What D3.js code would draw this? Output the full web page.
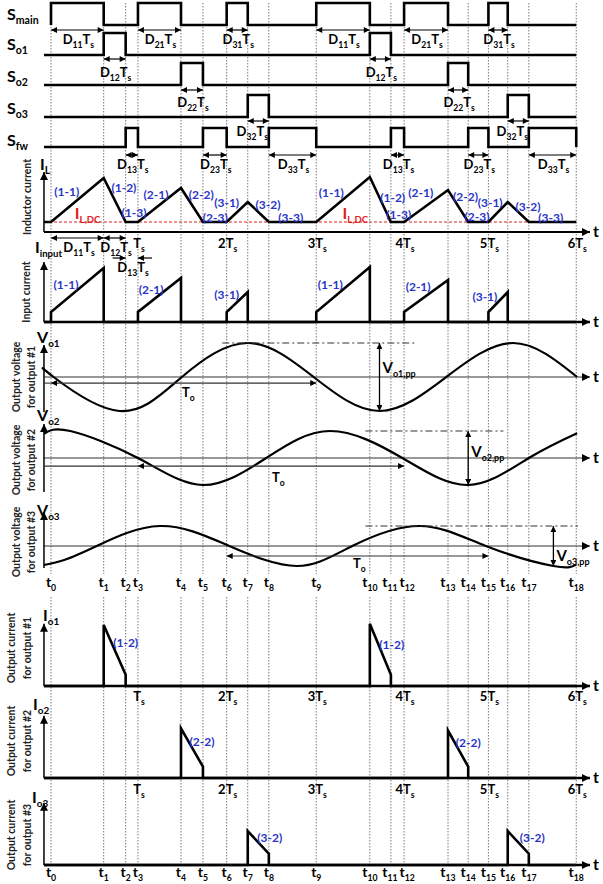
<!DOCTYPE html>
<html>
<head>
<meta charset="utf-8">
<script src="https://cdn.jsdelivr.net/npm/d3@7"></script>
<style>
  body { margin: 0; background: #fff; }
  svg { display: block; font-family: Lato, "Open Sans", sans-serif; font-weight: bold; }
</style>
</head>
<body>
<svg id="chart" width="603" height="884"></svg>
<script>
// switching instants t0..t18, in units of Ts
var tMarks = [0, 0.60, 0.85, 0.99, 1.48, 1.73, 2.0, 2.24, 2.48, 3.02, 3.63, 3.87, 4.02, 4.52, 4.75, 4.98, 5.2, 5.44, 5.98];
// which instants are multiples of Ts, and their labels
var tsIndex = [3, 6, 9, 12, 15, 18];
var tsLabels = ["", "2", "3", "4", "5", "6"];

// on-intervals of each switch, as [start index, end index] into tMarks
var sMain = [[0, 1], [3, 4], [6, 7], [9, 10], [12, 13], [15, 16]];
var sO1 = [[1, 2], [10, 11]];
var sO2 = [[4, 5], [13, 14]];
var sO3 = [[7, 8], [16, 17]];
var sFw = [[2, 3], [5, 6], [8, 9], [11, 12], [14, 15], [17, 18]];

// inductor current: dc level and the peak reached in each sub-period
var ilDC = 1.0;
var ilPeak = [5.4, 4.4, 3.0, 5.5, 4.2, 3.0];

// output voltage ripple: [t (Ts), normalised value]
var vo1 = [[-0.08, 0.24], [0.03, 0], [0.78, -1], [1.49, 0], [2.24, 1], [2.99, 0], [3.74, -1], [4.5, 0], [5.26, 1], [5.99, 0]];
var vo2 = [[-0.08, 0.9], [0.22, 1], [0.99, 0], [1.73, -1], [2.45, 0], [3.18, 1], [4.0, 0], [4.75, -1], [5.44, 0], [5.99, 0.92]];
var vo3 = [[-0.08, -0.95], [0.15, -0.7], [0.52, 0], [1.24, 1], [2.03, 0], [2.8, -1], [3.43, 0], [4.2, 1], [4.95, 0], [5.72, -1], [5.98, -0.93]];

// segment labels [text, t, value]
var ilTags = [["(1-1)", 0.18, 4.0], ["(1-2)", 0.83, 4.4], ["(1-3)", 0.945, 1.9], ["(2-1)", 1.195, 3.7], ["(2-2)", 1.71, 3.7],
              ["(2-3)", 1.87, 1.4], ["(3-1)", 2.0, 2.9], ["(3-2)", 2.47, 2.7], ["(3-3)", 2.73, 1.4],
              ["(1-1)", 3.19, 3.9], ["(1-2)", 3.89, 3.4], ["(1-3)", 3.96, 1.7], ["(2-1)", 4.21, 3.9], ["(2-2)", 4.72, 3.5],
              ["(2-3)", 4.85, 1.5], ["(3-1)", 5.0, 2.9], ["(3-2)", 5.43, 2.5], ["(3-3)", 5.69, 1.4]];
var inTags = [["(1-1)", 0.17, 3.7], ["(2-1)", 1.14, 3.2], ["(3-1)", 2.0, 2.7], ["(1-1)", 3.18, 3.7], ["(2-1)", 4.18, 3.5], ["(3-1)", 4.94, 2.5]];
var ioTags = [[["(1-2)", 0.85, 3.8], ["(1-2)", 3.88, 3.6]],
              [["(2-2)", 1.72, 3.2], ["(2-2)", 4.75, 3.1]],
              [["(3-2)", 2.49, 2.4], ["(3-2)", 5.48, 2.4]]];

var svg = d3.select("#chart");
var x = d3.scaleLinear().domain([0, 6]).range([51, 578]);
var tStart = -0.08;
var x0 = x(tStart), xAxisEnd = 590;
var blue = "#2a35c8", red = "#e0201c";

var defs = svg.append("defs");
function marker(id, w, h) {
    defs.append("marker").attr("id", id)
        .attr("viewBox", "0 0 10 10").attr("refX", 10).attr("refY", 5)
        .attr("markerWidth", w).attr("markerHeight", h)
        .attr("markerUnits", "userSpaceOnUse").attr("orient", "auto-start-reverse")
        .append("path").attr("d", "M0,0L10,5L0,10z").attr("fill", "#000");
}
marker("ah", 7, 6);
marker("axh", 11, 8);

// text with subscripts: parts starting with "_" are subscripts
function rich(g, px, py, parts, size, anchor, fill, subRatio) {
    var r = subRatio || 0.66;
    var txt = g.append("text").attr("x", px).attr("y", py)
        .attr("font-size", size).attr("text-anchor", anchor || "start")
        .attr("fill", fill || "#000");
    var shift = 0;
    parts.forEach(function(p) {
        var sub = p.charAt(0) === "_";
        var dy = sub ? size * 0.28 : 0;
        txt.append("tspan").attr("dy", dy - shift)
            .attr("font-size", sub ? size * r : size)
            .text(sub ? p.slice(1) : p);
        shift = dy;
    });
    return txt;
}

function hline(g, x1, x2, y, w, opts) {
    opts = opts || {};
    var l = g.append("line").attr("x1", x1).attr("x2", x2).attr("y1", y).attr("y2", y)
        .attr("stroke", opts.color || "#000").attr("stroke-width", w);
    if (opts.dash) l.attr("stroke-dasharray", opts.dash);
    if (opts.start) l.attr("marker-start", "url(#" + opts.start + ")");
    if (opts.end) l.attr("marker-end", "url(#" + opts.end + ")");
    return l;
}
function vline(g, xx, y1, y2, w, end) {
    var l = g.append("line").attr("x1", xx).attr("x2", xx).attr("y1", y1).attr("y2", y2)
        .attr("stroke", "#000").attr("stroke-width", w);
    if (end) l.attr("marker-end", "url(#" + end + ")");
    return l;
}
function vertLabel(g, cx, cy, text) {
    g.append("text").attr("transform", "translate(" + cx + "," + cy + ") rotate(-90)")
        .attr("text-anchor", "middle").attr("font-size", 10.5).attr("fill", "#222").text(text);
}
function trace(g, pts, yScale, w, curve) {
    var line = d3.line().x(function(d) { return x(d[0]); }).y(function(d) { return yScale(d[1]); });
    if (curve) line.curve(curve);
    g.append("path").datum(pts).attr("d", line)
        .attr("fill", "none").attr("stroke", "#000").attr("stroke-width", w)
        .attr("stroke-linejoin", "miter");
}

// dotted time grid
var grid = svg.append("g").attr("stroke", "#7a7a7a").attr("stroke-width", 1).attr("stroke-dasharray", "1.5,1.5");
grid.selectAll("line.a").data(tMarks).enter().append("line")
    .attr("x1", function(d) { return x(d); }).attr("x2", function(d) { return x(d); })
    .attr("y1", 3).attr("y2", 574);
grid.selectAll("line.b").data(tMarks).enter().append("line")
    .attr("x1", function(d) { return x(d); }).attr("x2", function(d) { return x(d); })
    .attr("y1", 597).attr("y2", 865);

// ---- switching signals
var rows = [
    { name: ["S", "_main"], on: sMain, lo: 25, hi: 3, lb: 20, dimY: 30, dimLb: 44 },
    { name: ["S", "_o1"], on: sO1, lo: 55, hi: 33, lb: 50, dimY: 59, dimLb: 77 },
    { name: ["S", "_o2"], on: sO2, lo: 85, hi: 63, lb: 82, dimY: 90, dimLb: 107 },
    { name: ["S", "_o3"], on: sO3, lo: 117, hi: 95, lb: 114, dimY: 121, dimLb: 136 },
    { name: ["S", "_fw"], on: sFw, lo: 147, hi: 128, lb: 146, dimY: 155, dimLb: 169 }
];
var sw = svg.append("g");
rows.forEach(function(r, ri) {
    var ys = d3.scaleLinear().domain([0, 1]).range([r.lo, r.hi]);
    var pts = ri === 0 ? [] : [[tStart, 0]];
    r.on.forEach(function(iv) {
        pts.push([tMarks[iv[0]], 0], [tMarks[iv[0]], 1], [tMarks[iv[1]], 1], [tMarks[iv[1]], 0]);
    });
    pts.push([tMarks[18], 0]);
    trace(sw, pts, ys, 2.6);
    rich(sw, 7, r.lb, r.name, 16);
    // duty-cycle dimension arrows
    r.on.forEach(function(iv, k) {
        var a = x(tMarks[iv[0]]), b = x(tMarks[iv[1]]);
        hline(sw, a, b, r.dimY, 1.2, { start: "ah", end: "ah" });
        var sub;
        if (ri === 0) sub = (k % 3 + 1) + "1";
        else if (ri === 4) sub = (k % 3 + 1) + "3";
        else sub = ri + "2";
        var dx = ri === 3 ? -6 : 1;
        rich(sw, (a + b) / 2 + dx, r.dimLb, ["D", "_" + sub, "T", "_s"], 13, "middle");
    });
});

// ---- inductor current
var gIL = svg.append("g");
var yIL = d3.scaleLinear().domain([0, 6]).range([232, 172]);
hline(gIL, x0, xAxisEnd, yIL(0), 2, { end: "axh" });
vline(gIL, x0, yIL(0), yIL(6), 1.5, "axh");
gIL.append("text").attr("x", 593).attr("y", yIL(0) + 5).attr("font-size", 16).text("t");
hline(gIL, x0, x(tMarks[18]), yIL(ilDC), 1.2, { color: red, dash: "3,2" });
var ilPts = [[tStart, ilDC]];
ilPeak.forEach(function(p, k) {
    ilPts.push([tMarks[3 * k], ilDC], [tMarks[3 * k + 1], p], [tMarks[3 * k + 2], ilDC]);
});
ilPts.push([tMarks[18], ilDC]);
trace(gIL, ilPts, yIL, 2.6);
ilTags.forEach(function(d) {
    gIL.append("text").attr("x", x(d[1])).attr("y", yIL(d[2]) + 4).attr("text-anchor", "middle")
        .attr("font-size", 12).attr("fill", blue).text(d[0]);
});
[0.27, 3.32].forEach(function(t) { rich(gIL, x(t), 219, ["I", "_L,DC"], 16, "start", red, 0.6); });
rich(gIL, 40, 170, ["I", "_L"], 16);
vertLabel(gIL, 31, 197, "Inductor current");
// timing annotation under the inductor current axis
hline(gIL, x(tMarks[0]), x(tMarks[1]), 238, 1.2, { start: "ah", end: "ah" });
hline(gIL, x(tMarks[1]), x(tMarks[2]), 238, 1.2, { start: "ah", end: "ah" });
rich(gIL, 79, 252, ["D", "_11", "T", "_s"], 13, "middle");
rich(gIL, 116, 252, ["D", "_12", "T", "_s"], 13, "middle");
hline(gIL, x(tMarks[2]) - 13, x(tMarks[2]), 258, 1.2, { end: "ah" });
hline(gIL, x(tMarks[3]) + 14, x(tMarks[3]), 258, 1.2, { end: "ah" });
rich(gIL, 133, 272, ["D", "_13", "T", "_s"], 13, "middle");

function tsRow(g, yb) {
    tsIndex.forEach(function(idx, k) {
        rich(g, x(tMarks[idx]) + 1, yb, [tsLabels[k] + "T", "_s"], 13, "middle");
    });
}
tsRow(gIL, 248);

// ---- input current
var gIn = svg.append("g");
var yIn = d3.scaleLinear().domain([0, 6]).range([322, 262]);
hline(gIn, x0, xAxisEnd, yIn(0), 2.4, { end: "axh" });
vline(gIn, x0, yIn(0), yIn(6), 1.5, "axh");
gIn.append("text").attr("x", 593).attr("y", yIn(0) + 5).attr("font-size", 16).text("t");
var inPts = [[tStart, 0]];
ilPeak.forEach(function(p, k) {
    inPts.push([tMarks[3 * k], 0], [tMarks[3 * k], ilDC], [tMarks[3 * k + 1], p], [tMarks[3 * k + 1], 0]);
});
inPts.push([tMarks[18], 0]);
trace(gIn, inPts, yIn, 2.6);
inTags.forEach(function(d) {
    gIn.append("text").attr("x", x(d[1])).attr("y", yIn(d[2]) + 4).attr("text-anchor", "middle")
        .attr("font-size", 12).attr("fill", blue).text(d[0]);
});
rich(gIn, 35, 253, ["I", "_input"], 16, "start", null, 0.6);
vertLabel(gIn, 30, 292, "Input current");

// ---- output voltages
var vPanels = [
    { data: vo1, range: [411, 343], name: "o1", lb: 343, vTop: 345, vBot: 412, cy: 377,
      toFrom: 0, toTo: 9, toV: -0.18, toExt: true, toLab: [182, 397],
      dd: [1.95, 4.14], pp: 3.74, ppLab: 373 },
    { data: vo2, range: [485, 431], name: "o2", lb: 421, vTop: 424, vBot: 492, cy: 460,
      toFrom: 3, toTo: 12, toV: -0.3, toExt: true, toLab: [272, 482],
      dd: [3.58, 5.15], pp: 4.75, ppLab: 457 },
    { data: vo3, range: [566, 526], name: "o3", lb: 516, vTop: 512, vBot: 568, cy: 542,
      toFrom: 6, toTo: 15, toV: -0.5, toExt: false, toLab: [353, 568],
      dd: [3.58, 6.0], pp: 5.72, ppLab: 561 }
];
vPanels.forEach(function(p, i) {
    var g = svg.append("g");
    var yv = d3.scaleLinear().domain([-1, 1]).range(p.range);
    hline(g, x0, xAxisEnd, yv(0), 1.1, { color: "#333", end: "axh" });
    g.append("text").attr("x", 593).attr("y", yv(0) + 5).attr("font-size", 16).text("t");
    vline(g, x0, p.vBot, p.vTop, 1.5, "axh");
    trace(g, p.data, yv, 2.2, d3.curveNatural);
    // period arrow
    var ty = yv(p.toV);
    if (p.toExt) hline(g, x0, x(tMarks[p.toFrom]), ty, 1.1, { color: "#333" });
    hline(g, x(tMarks[p.toFrom]), x(tMarks[p.toTo]), ty, 1.1, { color: "#333", start: "ah", end: "ah" });
    rich(g, p.toLab[0], p.toLab[1], ["T", "_o"], 13);
    // peak-to-peak
    hline(g, x(p.dd[0]), x(p.dd[1]), yv(1), 1, { color: "#333", dash: "7,3,2,3" });
    g.append("line").attr("x1", x(p.pp)).attr("x2", x(p.pp))
        .attr("y1", yv(1)).attr("y2", yv(-1)).attr("stroke", "#000").attr("stroke-width", 1.3)
        .attr("marker-start", "url(#ah)").attr("marker-end", "url(#ah)");
    rich(g, x(p.pp) + 3, p.ppLab, ["V", "_" + p.name + ",pp"], 15, "start", null, 0.6);
    rich(g, 37, p.lb, ["V", "_" + p.name], 16, "start", null, 0.62);
    vertLabel(g, 20, p.cy, "Output voltage");
    vertLabel(g, 35, p.cy, "for output #" + (i + 1));
});

// t0..t18 labels
var tNudge = { 11: -1, 12: 3 };
function tRow(g, yb) {
    tMarks.forEach(function(t, i) {
        rich(g, x(t) + (tNudge[i] || 0), yb, ["t", "_" + i], 14, "middle", null, 0.62);
    });
}
tRow(svg.append("g"), 587);

// ---- output currents
var yI = 11.3;
var iPanels = [
    { base: 686, name: "o1", lx: 43, lb: 621, cy: 648, ts: 701 },
    { base: 778, name: "o2", lx: 33, lb: 710, cy: 741, ts: 794 },
    { base: 865, name: "o3", lx: 32, lb: 803, cy: 835, ts: null }
];
iPanels.forEach(function(p, j) {
    var g = svg.append("g");
    var yo = d3.scaleLinear().domain([0, 6]).range([p.base, p.base - 6 * yI]);
    hline(g, x0, xAxisEnd, yo(0), 2.4, { end: "axh" });
    vline(g, x0, yo(0), yo(5.5), 1.5, "axh");
    g.append("text").attr("x", 593).attr("y", yo(0) + 5).attr("font-size", 16).text("t");
    var pts = [[tStart, 0]];
    ilPeak.forEach(function(pk, k) {
        if (k % 3 !== j) return;
        pts.push([tMarks[3 * k + 1], 0], [tMarks[3 * k + 1], pk], [tMarks[3 * k + 2], ilDC], [tMarks[3 * k + 2], 0]);
    });
    pts.push([tMarks[18], 0]);
    trace(g, pts, yo, 2.6);
    ioTags[j].forEach(function(d) {
        g.append("text").attr("x", x(d[1])).attr("y", yo(d[2]) + 4).attr("text-anchor", "middle")
            .attr("font-size", 12).attr("fill", blue).text(d[0]);
    });
    rich(g, p.lx, p.lb, ["I", "_" + p.name], 16, "start", null, 0.62);
    vertLabel(g, 15, p.cy, "Output current");
    vertLabel(g, 31, p.cy, "for output #" + (j + 1));
    if (p.ts) tsRow(g, p.ts);
});
tRow(svg.append("g"), 877);
</script>
</body>
</html>
